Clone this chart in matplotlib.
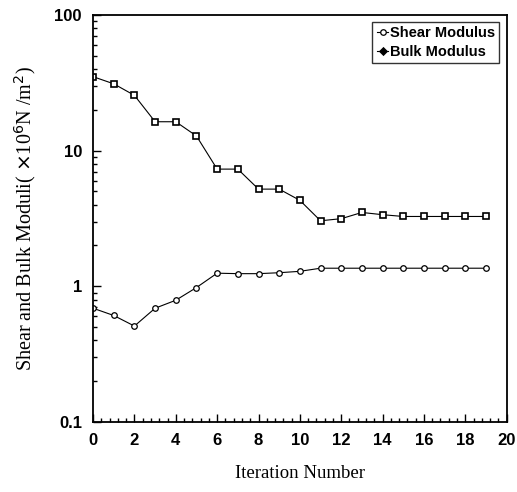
import matplotlib.pyplot as plt
from matplotlib.ticker import AutoMinorLocator, LogLocator, NullFormatter, FixedLocator

# values
iteration = list(range(20))
shear = [0.69, 0.61, 0.51, 0.69, 0.79, 0.98, 1.25, 1.24, 1.24, 1.26, 1.29,
         1.36, 1.36, 1.36, 1.36, 1.36, 1.36, 1.36, 1.36, 1.36]
bulk = [35.0, 31.0, 25.5, 16.3, 16.3, 12.8, 7.3, 7.3, 5.2, 5.2, 4.3,
        3.04, 3.15, 3.5, 3.37, 3.27, 3.27, 3.27, 3.27, 3.27]

fig = plt.figure(figsize=(5.17, 4.92), dpi=100)
ax = fig.add_axes([0.180, 0.142, 0.800, 0.828])

ax.plot(iteration, shear, color="black", lw=0.8, marker="o", ms=4,
        mfc="white", mec="black", mew=0.9, label="Shear Modulus")
ax.plot(iteration, bulk, color="black", lw=0.8, marker="s", ms=4.5,
        mfc="white", mec="black", mew=1.2, label="Bulk Modulus")

ax.set_yscale("log")
ax.set_ylim(0.1, 100)
ax.set_xlim(0, 20)
ax.xaxis.set_major_locator(FixedLocator(range(0, 21, 2)))
ax.xaxis.set_minor_locator(AutoMinorLocator(5))
ax.yaxis.set_minor_locator(LogLocator(subs=range(2, 10)))
ax.yaxis.set_minor_formatter(NullFormatter())
ax.set_yticks([0.1, 1, 10, 100])
ax.set_yticklabels(["0.1", "1", "10", "100"])

ax.tick_params(which="both", direction="in", top=False, right=False, width=1)
ax.tick_params(which="major", length=6, labelsize=12, pad=8)
ax.tick_params(which="minor", length=3)
for lab in ax.get_xticklabels() + ax.get_yticklabels():
    lab.set_fontweight("bold")
    lab.set_family(["Liberation Sans", "DejaVu Sans"])
for s in ax.spines.values():
    s.set_linewidth(1.3)

ax.set_xlabel("Iteration Number", family="Liberation Serif", fontsize=13.5, labelpad=12)
ax.set_ylabel("Shear and Bulk Moduli( $\\times$10$^6$N /m$^2$)", family="Liberation Serif",
              fontsize=14.5, labelpad=12)

leg = ax.legend(loc="upper right", handlelength=0.8, handletextpad=0.1,
                borderpad=0.3, labelspacing=0.3, borderaxespad=0.5, fancybox=False,
                prop={"family": ["Liberation Sans Narrow", "Liberation Sans"],
                      "weight": "bold", "size": 10.5})
leg.get_frame().set_edgecolor("black")
leg.get_frame().set_linewidth(1.0)
leg.legend_handles[1].set_markerfacecolor("black")
leg.legend_handles[1].set_marker("D")
leg.legend_handles[1].set_markersize(3.5)

plt.savefig("out.png", dpi=100)
